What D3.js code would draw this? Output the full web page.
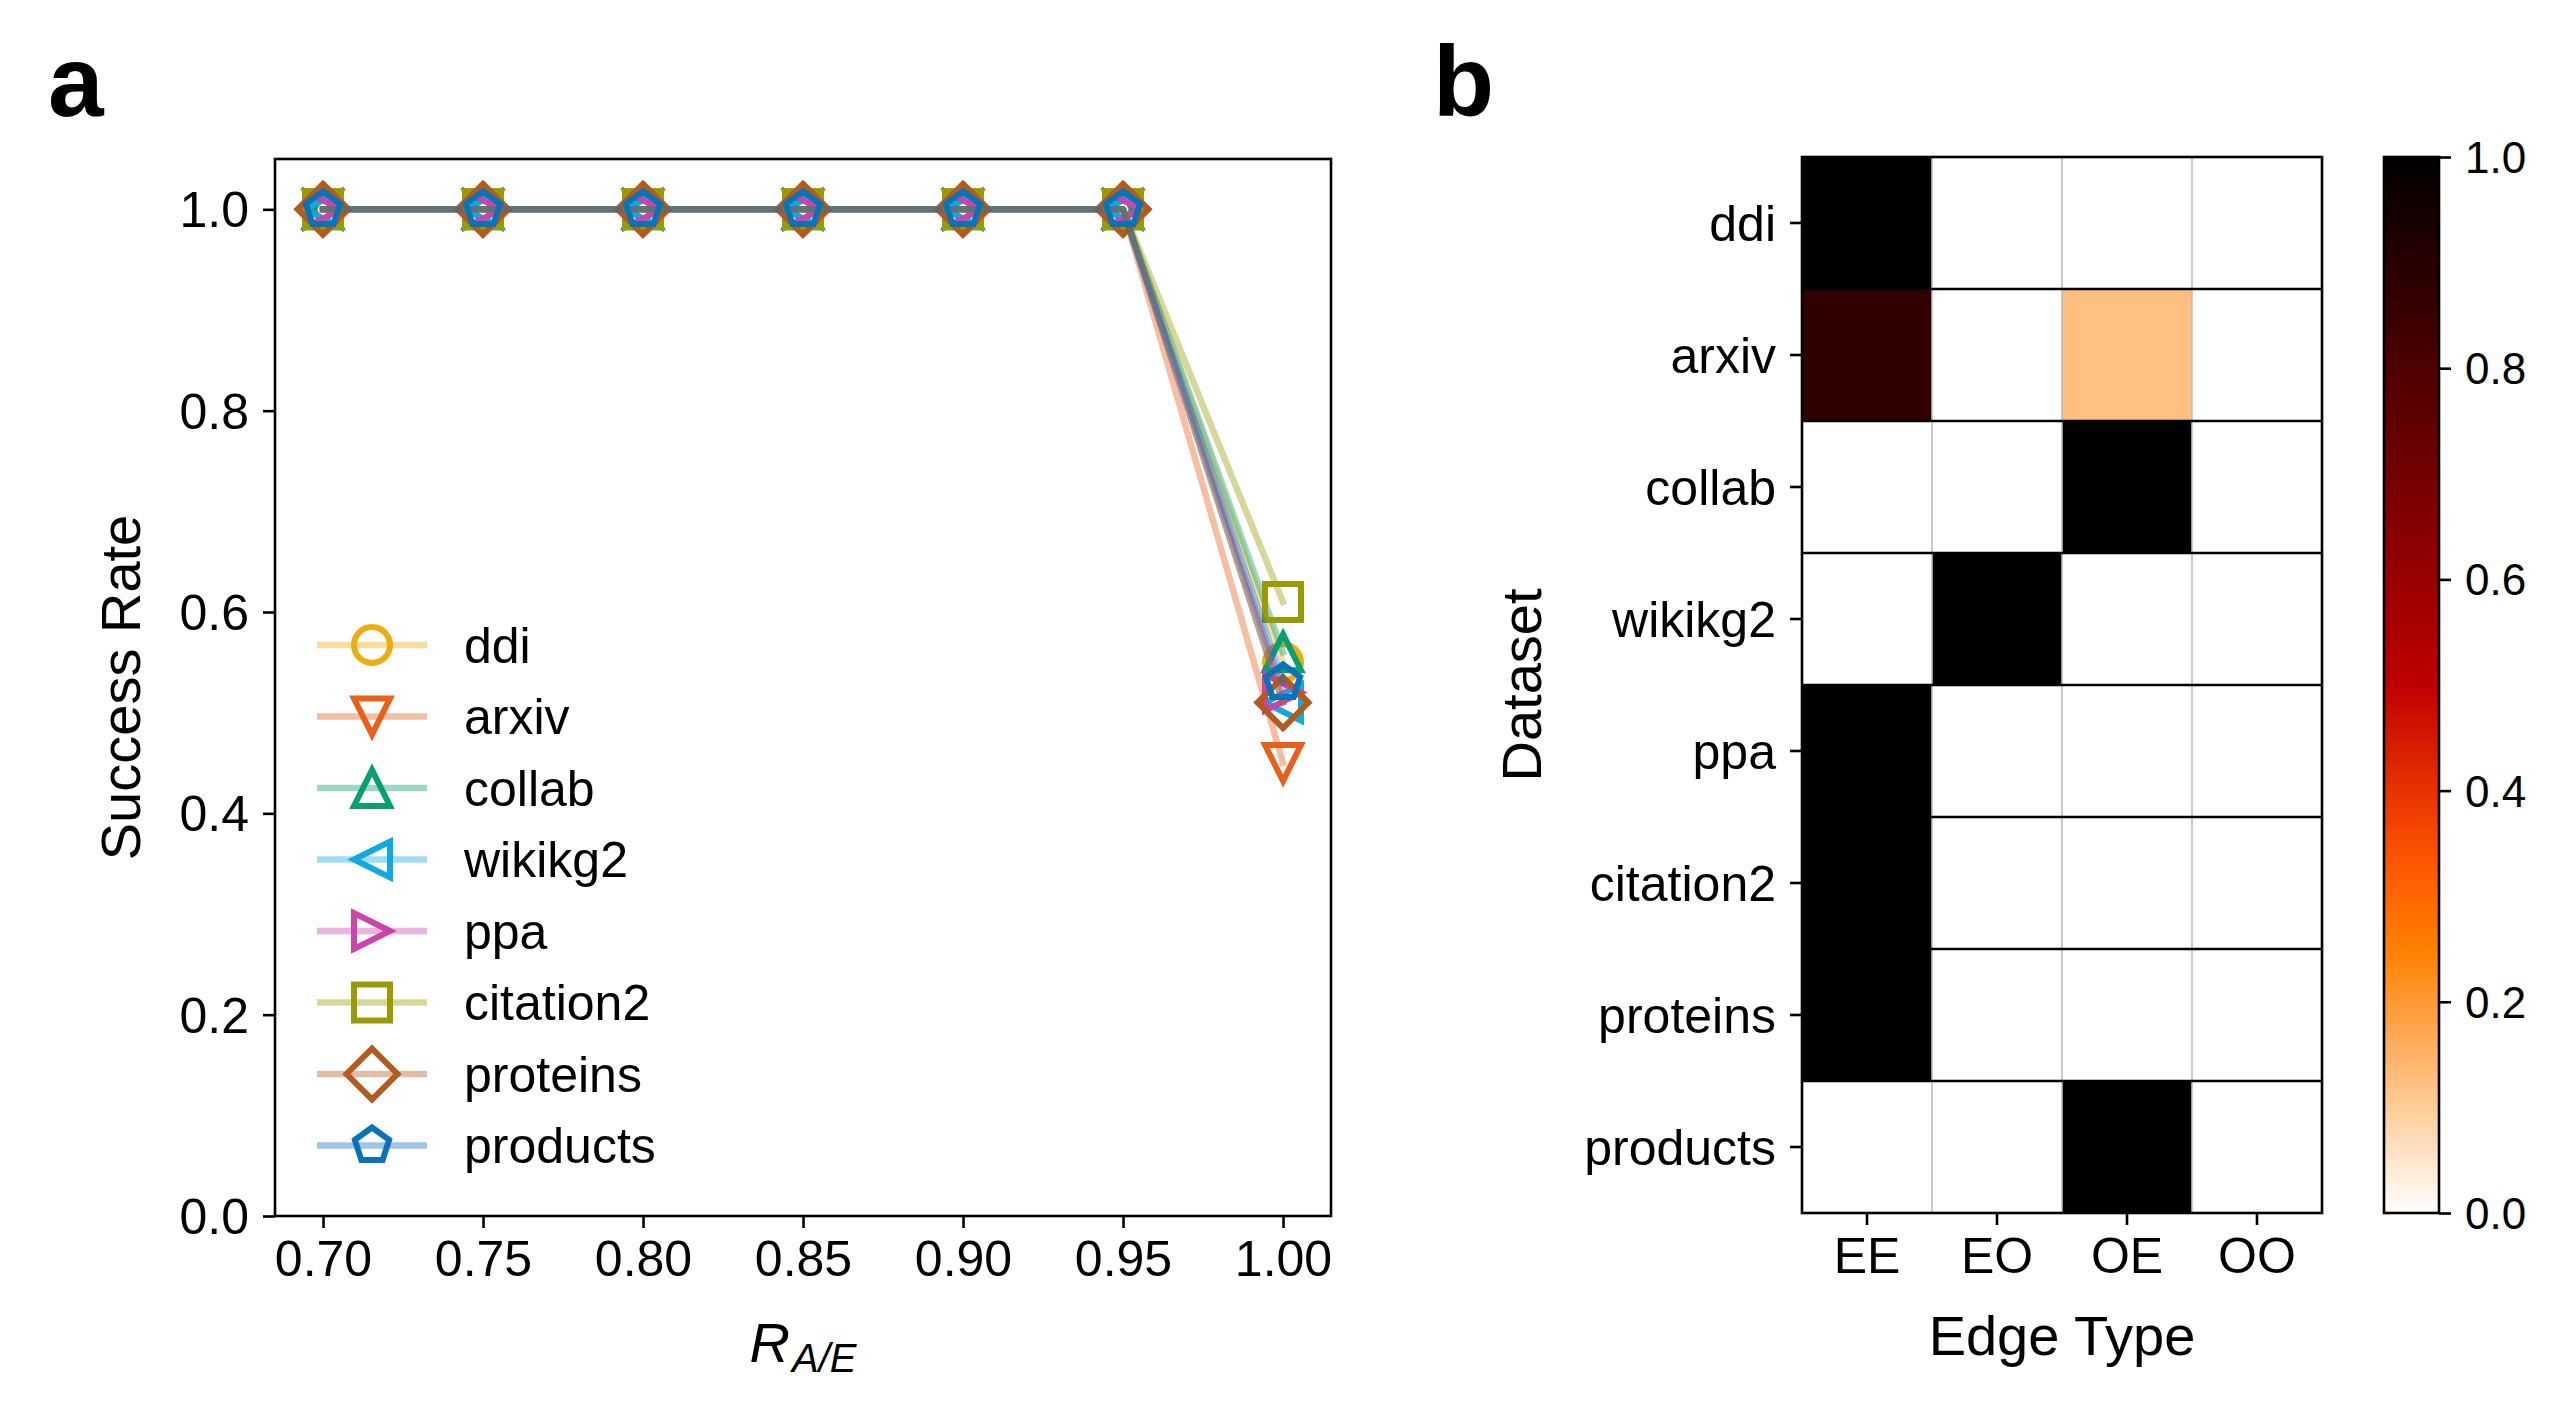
<!DOCTYPE html>
<html><head><meta charset="utf-8">
<script src="https://cdn.jsdelivr.net/npm/d3@7/dist/d3.min.js"></script>
<style>
body{margin:0;background:#fff}
svg{display:block}
text{font-family:Arial,"Liberation Sans",sans-serif;fill:#000}
</style>
</head><body>
<svg id="c" width="2564" height="1407"></svg>
<script>
// ---------------- data ----------------
const ratios = [0.70, 0.75, 0.80, 0.85, 0.90, 0.95, 1.00];
const xTickLabels = ["0.70","0.75","0.80","0.85","0.90","0.95","1.00"];
const yTicksA = [0.0, 0.2, 0.4, 0.6, 0.8, 1.0];
const datasets = ["ddi","arxiv","collab","wikikg2","ppa","citation2","proteins","products"];
const ddiRate       = [1,1,1,1,1,1,0.55];
const arxivRate     = [1,1,1,1,1,1,0.45];
const collabRate    = [1,1,1,1,1,1,0.56];
const wikikg2Rate   = [1,1,1,1,1,1,0.51];
const ppaRate       = [1,1,1,1,1,1,0.52];
const citation2Rate = [1,1,1,1,1,1,0.61];
const proteinsRate  = [1,1,1,1,1,1,0.51];
const productsRate  = [1,1,1,1,1,1,0.53];
const seriesColors  = ["#EBAD10","#E8601C","#0A9E73","#12A8E0","#CC44AA","#9A9A05","#B35A1F","#0A72B8"];
const seriesMarkers = ["circle","triangleDown","triangleUp","triangleLeft","triangleRight","square","diamond","pentagon"];

const edgeTypes = ["EE","EO","OE","OO"];
const heatDdi       = [1, 0, 0, 0];
const heatArxiv     = [0.875, 0, 0.125, 0];
const heatCollab    = [0, 0, 1, 0];
const heatWikikg2   = [0, 1, 0, 0];
const heatPpa       = [1, 0, 0, 0];
const heatCitation2 = [1, 0, 0, 0];
const heatProteins  = [1, 0, 0, 0];
const heatProducts  = [0, 0, 1, 0];
const cbTicks = [0.0, 0.2, 0.4, 0.6, 0.8, 1.0];

const rates = [ddiRate, arxivRate, collabRate, wikikg2Rate, ppaRate, citation2Rate, proteinsRate, productsRate];
const heat  = [heatDdi, heatArxiv, heatCollab, heatWikikg2, heatPpa, heatCitation2, heatProteins, heatProducts];

// ---------------- helpers ----------------
const svg = d3.select("#c");
const AX = 2.6, TL = 12, FS = 50;

function gistHeatR(v){
  const x = 1 - v;
  const c = t => Math.max(0, Math.min(1, t));
  return d3.rgb(255*c(1.5*x), 255*c(2*x-1), 255*c(4*x-3)).formatHex();
}

function markerPath(type, m){
  const h = m/2, p = d3.path();
  const poly = pts => { pts.forEach((q,i)=> i? p.lineTo(q[0],q[1]) : p.moveTo(q[0],q[1])); p.closePath(); };
  switch(type){
    case "circle": p.arc(0,0,h,0,2*Math.PI); p.closePath(); break;
    case "triangleUp":    poly([[0,-h],[-h,h],[h,h]]); break;
    case "triangleDown":  poly([[0,h],[-h,-h],[h,-h]]); break;
    case "triangleLeft":  poly([[-h,0],[h,-h],[h,h]]); break;
    case "triangleRight": poly([[h,0],[-h,-h],[-h,h]]); break;
    case "square": poly([[-h,-h],[h,-h],[h,h],[-h,h]]); break;
    case "diamond": { const d = m/Math.SQRT2; poly([[0,-d],[d,0],[0,d],[-d,0]]); break; }
    case "pentagon": {
      const pts = d3.range(5).map(k=>{const a = Math.PI/2 + k*2*Math.PI/5; return [h*Math.cos(a), -h*Math.sin(a)];});
      poly(pts); break;
    }
  }
  return p.toString();
}

// ---------------- panel a ----------------
const A = {l:275, r:1331, t:159, b:1216};
const x = d3.scaleLinear().domain([0.685, 1.015]).range([A.l, A.r]);
const y = d3.scaleLinear().domain([0, 1.05]).range([A.b, A.t]);
const gA = svg.append("g");

const line = d3.line().x((d,i)=>x(ratios[i])).y(d=>y(d));
const MS = 36, MEW = 6;
rates.forEach((s, k)=>{
  gA.append("path").attr("d", line(s)).attr("fill","none")
    .attr("stroke", seriesColors[k]).attr("stroke-opacity",0.4)
    .attr("stroke-width",6.5).attr("stroke-linejoin","round").attr("stroke-linecap","square");
  gA.selectAll(null).data(s).enter().append("path")
    .attr("d", markerPath(seriesMarkers[k], MS))
    .attr("transform",(d,i)=>`translate(${x(ratios[i])},${y(d)})`)
    .attr("fill","none").attr("stroke",seriesColors[k]).attr("stroke-width",MEW)
    .attr("stroke-linejoin","miter");
});

// frame
gA.append("rect").attr("x",A.l).attr("y",A.t).attr("width",A.r-A.l).attr("height",A.b-A.t)
  .attr("fill","none").attr("stroke","#000").attr("stroke-width",AX);

// x axis
const xAxis = d3.axisBottom(x).tickValues(ratios).tickFormat((d,i)=>xTickLabels[i]).tickSize(TL).tickPadding(12);
const gx = gA.append("g").attr("transform",`translate(0,${A.b})`).call(xAxis);
// y axis
const yAxis = d3.axisLeft(y).tickValues(yTicksA).tickFormat(d3.format(".1f")).tickSize(TL).tickPadding(14);
const gy = gA.append("g").attr("transform",`translate(${A.l},0)`).call(yAxis);
[gx, gy].forEach(g=>{
  g.select(".domain").remove();
  g.selectAll(".tick line").attr("stroke","#000").attr("stroke-width",AX);
  g.selectAll(".tick text").attr("font-size",FS).attr("font-family","Arial, Liberation Sans, sans-serif").attr("fill","#000");
});
gx.selectAll(".tick text").attr("dy","0.71em");
gy.selectAll(".tick text").attr("dy","0.35em");

// axis labels
gA.append("text").attr("transform",`translate(140,${(A.t+A.b)/2}) rotate(-90)`)
  .attr("text-anchor","middle").attr("font-size",56).text("Success Rate");
const rl = gA.append("text").attr("x",(A.l+A.r)/2).attr("y",1362).attr("text-anchor","middle").attr("font-size",56).attr("font-style","italic");
rl.append("tspan").text("R");
rl.append("tspan").attr("font-size",40).attr("dy",10).attr("dx",2).text("A/E");

// legend
const leg = gA.append("g");
datasets.forEach((name,k)=>{
  const yy = 645 + k*71.5;
  leg.append("line").attr("x1",317).attr("x2",427).attr("y1",yy).attr("y2",yy)
    .attr("stroke",seriesColors[k]).attr("stroke-opacity",0.4).attr("stroke-width",6.5);
  leg.append("path").attr("d",markerPath(seriesMarkers[k],MS)).attr("transform",`translate(372,${yy})`)
    .attr("fill","none").attr("stroke",seriesColors[k]).attr("stroke-width",MEW);
  leg.append("text").attr("x",464).attr("y",yy).attr("dy","0.35em").attr("font-size",FS).text(name);
});

// panel letter
svg.append("text").attr("x",48).attr("y",116).attr("font-size",100).attr("font-weight","bold").text("a");
svg.append("text").attr("x",1433).attr("y",116).attr("font-size",100).attr("font-weight","bold").text("b");

// ---------------- panel b ----------------
const B = {l:1802, r:2322, t:157, b:1213};
const bx = d3.scaleBand().domain(edgeTypes).range([B.l, B.r]);
const by = d3.scaleBand().domain(datasets).range([B.t, B.b]);
const gB = svg.append("g");
heat.forEach((row, ri)=>{
  gB.selectAll(null).data(row).enter().append("rect")
    .attr("x",(d,ci)=>bx(edgeTypes[ci])).attr("y",by(datasets[ri]))
    .attr("width",bx.bandwidth()+0.5).attr("height",by.bandwidth()+0.5)
    .attr("fill",d=>gistHeatR(d));
});
// vertical gray separators
edgeTypes.slice(1).forEach(e=>{
  gB.append("line").attr("x1",bx(e)).attr("x2",bx(e)).attr("y1",B.t).attr("y2",B.b)
    .attr("stroke","#BDBDBD").attr("stroke-width",1.6);
});
// horizontal black separators
datasets.slice(1).forEach(d=>{
  gB.append("line").attr("x1",B.l).attr("x2",B.r).attr("y1",by(d)).attr("y2",by(d))
    .attr("stroke","#000").attr("stroke-width",2.6);
});
gB.append("rect").attr("x",B.l).attr("y",B.t).attr("width",B.r-B.l).attr("height",B.b-B.t)
  .attr("fill","none").attr("stroke","#000").attr("stroke-width",AX);

const bxAxis = d3.axisBottom(bx).tickSize(TL).tickPadding(12);
const gbx = gB.append("g").attr("transform",`translate(0,${B.b})`).call(bxAxis);
const byAxis = d3.axisLeft(by).tickSize(TL).tickPadding(14);
const gby = gB.append("g").attr("transform",`translate(${B.l},0)`).call(byAxis);
[gbx, gby].forEach(g=>{
  g.select(".domain").remove();
  g.selectAll(".tick line").attr("stroke","#000").attr("stroke-width",AX);
  g.selectAll(".tick text").attr("font-size",FS).attr("font-family","Arial, Liberation Sans, sans-serif").attr("fill","#000");
});
gbx.selectAll(".tick text").attr("dy","0.71em");
gby.selectAll(".tick text").attr("dy","0.35em");

gB.append("text").attr("x",(B.l+B.r)/2).attr("y",1355).attr("text-anchor","middle").attr("font-size",56).text("Edge Type");
gB.append("text").attr("transform",`translate(1541,${(B.t+B.b)/2}) rotate(-90)`)
  .attr("text-anchor","middle").attr("font-size",56).text("Dataset");

// colorbar
const C = {l:2384, r:2439, t:157, b:1213};
const cy = d3.scaleLinear().domain([0,1]).range([C.b, C.t]);
const defs = svg.append("defs");
const grad = defs.append("linearGradient").attr("id","cbg").attr("x1",0).attr("y1",1).attr("x2",0).attr("y2",0);
d3.range(0, 1.0001, 1/64).forEach(v=>{
  grad.append("stop").attr("offset",v).attr("stop-color",gistHeatR(v));
});
gB.append("rect").attr("x",C.l).attr("y",C.t).attr("width",C.r-C.l).attr("height",C.b-C.t)
  .attr("fill","url(#cbg)").attr("stroke","#000").attr("stroke-width",AX);
const cAxis = d3.axisRight(cy).tickValues(cbTicks).tickFormat(d3.format(".1f")).tickSize(TL).tickPadding(14);
const gc = gB.append("g").attr("transform",`translate(${C.r},0)`).call(cAxis);
gc.select(".domain").remove();
gc.selectAll(".tick line").attr("stroke","#000").attr("stroke-width",AX);
gc.selectAll(".tick text").attr("font-size",44).attr("font-family","Arial, Liberation Sans, sans-serif").attr("fill","#000").attr("dy","0.35em");
</script>
</body></html>
